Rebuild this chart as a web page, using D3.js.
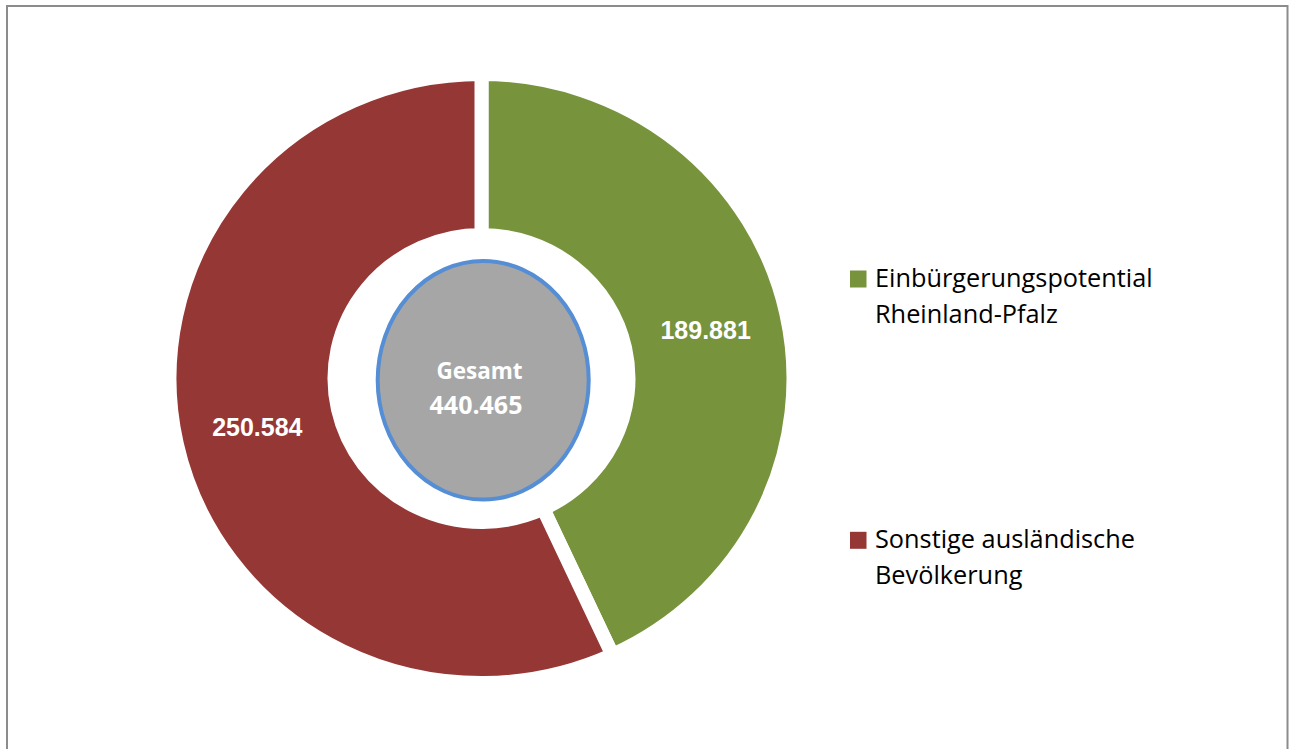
<!DOCTYPE html>
<html>
<head>
<meta charset="utf-8">
<script src="https://cdn.jsdelivr.net/npm/d3@7"></script>
<style>
  html, body { margin: 0; padding: 0; background: #ffffff; }
  svg { display: block; }
</style>
</head>
<body>
<svg id="chart" width="1290" height="749"></svg>
<script>
// Einbürgerungspotential in Rheinland-Pfalz – Anteil an der ausländischen Bevölkerung
const categories = ["Einbürgerungspotential Rheinland-Pfalz", "Sonstige ausländische Bevölkerung"];
const legendLines = [["Einbürgerungspotential", "Rheinland-Pfalz"], ["Sonstige ausländische", "Bevölkerung"]];
const values = [189881, 250584];
const colors = ["#77933C", "#953735"];
const totalLabel = "Gesamt";
const totalValue = 440465;

const fmt = v => d3.format(",")(v).replace(/,/g, ".");

const svg = d3.select("#chart");

// chart frame
svg.append("rect")
  .attr("x", 7).attr("y", 6)
  .attr("width", 1280.5).attr("height", 800)
  .attr("fill", "none")
  .attr("stroke", "#8c8c8c")
  .attr("stroke-width", 2);

const cx = 481.5, cy = 378.5;
const outerR = 312, innerR = 147;

const pie = d3.pie().sort(null).value(d => d).startAngle(0).endAngle(2 * Math.PI);
const arcs = pie(values);
const arc = d3.arc().innerRadius(innerR).outerRadius(outerR);
const labelArc = d3.arc().innerRadius((outerR + innerR) / 2).outerRadius((outerR + innerR) / 2);

const ring = svg.append("g")
  .attr("transform", `translate(${cx},${cy}) scale(1,0.976)`);

ring.selectAll("path.slice")
  .data(arcs)
  .join("path")
  .attr("class", "slice")
  .attr("d", arc)
  .attr("fill", (d, i) => colors[i])
  .attr("stroke", "#ffffff")
  .attr("stroke-width", 14)
  .attr("stroke-linejoin", "miter")
  .attr("vector-effect", "non-scaling-stroke");

// value labels at slice centroids
svg.append("g")
  .selectAll("text")
  .data(arcs)
  .join("text")
  .attr("x", d => cx + labelArc.centroid(d)[0])
  .attr("y", d => cy + labelArc.centroid(d)[1] * 0.976)
  .attr("dy", "0.36em")
  .attr("text-anchor", "middle")
  .attr("font-family", "'Liberation Sans', Arial, sans-serif")
  .attr("font-weight", "bold")
  .attr("font-size", 25)
  .attr("fill", "#ffffff")
  .text(d => fmt(d.data));

// centre total
svg.append("ellipse")
  .attr("cx", 483.2).attr("cy", 380.3)
  .attr("rx", 105.5).attr("ry", 119.3)
  .attr("fill", "#A6A6A6")
  .attr("stroke", "#558ED5")
  .attr("stroke-width", 4);

svg.append("text")
  .attr("x", 479.5).attr("y", 379.3)
  .attr("text-anchor", "middle")
  .attr("font-family", "'Open Sans', sans-serif")
  .attr("font-weight", "bold")
  .attr("font-size", 22.5)
  .attr("fill", "#ffffff")
  .text(totalLabel);

svg.append("text")
  .attr("x", 476).attr("y", 414)
  .attr("text-anchor", "middle")
  .attr("font-family", "'Open Sans', sans-serif")
  .attr("font-weight", "bold")
  .attr("font-size", 25)
  .attr("fill", "#ffffff")
  .text(fmt(totalValue));

// legend
const legendTop = [287, 548.3];
const legend = svg.append("g");
categories.forEach((c, i) => {
  const g = legend.append("g");
  g.append("rect")
    .attr("x", 850).attr("y", legendTop[i] - 16.5)
    .attr("width", 16.5).attr("height", 17)
    .attr("fill", colors[i]);
  g.append("text")
    .attr("font-family", "'Open Sans', sans-serif")
    .attr("font-size", 25.3)
    .attr("fill", "#000000")
    .selectAll("tspan")
    .data(legendLines[i])
    .join("tspan")
    .attr("x", 875)
    .attr("y", (d, j) => legendTop[i] + j * 35.7)
    .text(d => d);
});
</script>
</body>
</html>
